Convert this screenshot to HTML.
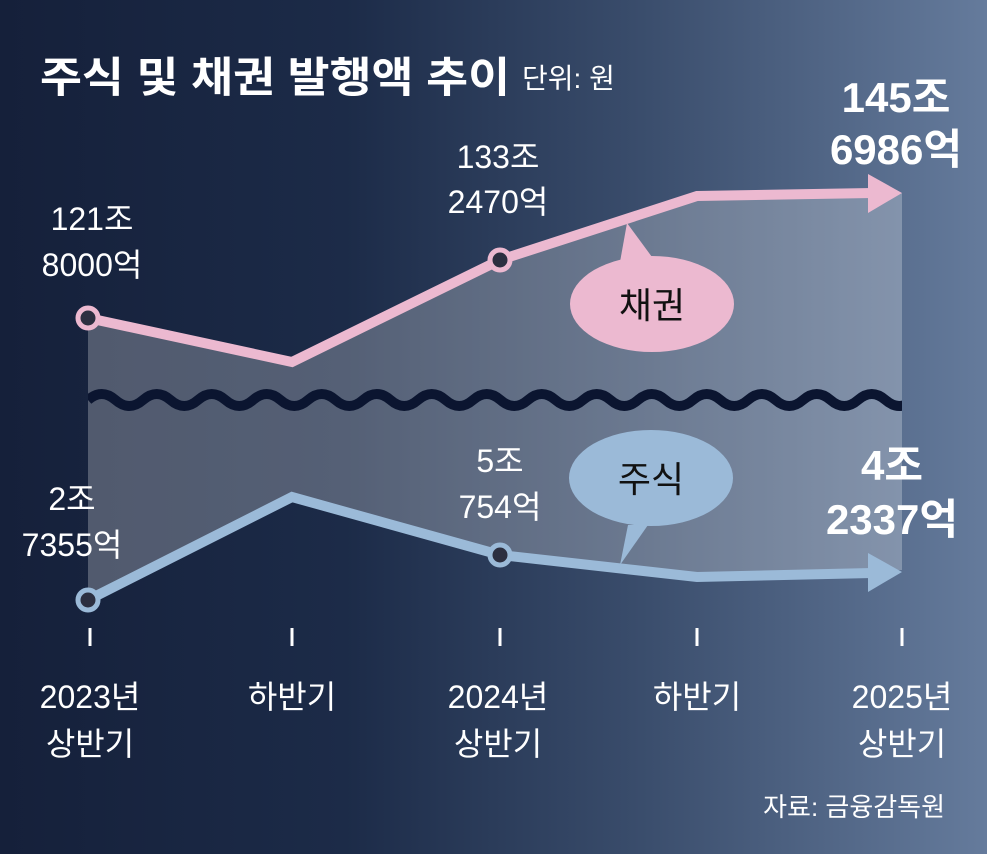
<!DOCTYPE html>
<html><head><meta charset="utf-8"><style>
html,body{margin:0;padding:0}
body{width:987px;height:854px;overflow:hidden;background:linear-gradient(90deg,#15203a 0%,#1c2b48 35%,#3a4d6c 65%,#657b9c 100%);font-family:"Liberation Sans","Noto Sans CJK KR",sans-serif}
svg{position:absolute;left:0;top:0}
</style></head><body>
<svg width="987" height="854" viewBox="0 0 987 854" font-family="Liberation Sans, Noto Sans CJK KR, sans-serif">
<defs><clipPath id="c"><rect x="88" y="0" width="814" height="854"/></clipPath></defs>
<polygon points="88,318 292,362 500,260 697,196 902,193 902,570 697,577 500,555 292,497 88,600" fill="#ffffff" fill-opacity="0.25"/>
<path clip-path="url(#c)" d="M88,400 q13.75,-12 27.5,0 t27.5,0 t27.5,0 t27.5,0 t27.5,0 t27.5,0 t27.5,0 t27.5,0 t27.5,0 t27.5,0 t27.5,0 t27.5,0 t27.5,0 t27.5,0 t27.5,0 t27.5,0 t27.5,0 t27.5,0 t27.5,0 t27.5,0 t27.5,0 t27.5,0 t27.5,0 t27.5,0 t27.5,0 t27.5,0 t27.5,0 t27.5,0 t27.5,0 t27.5,0" fill="none" stroke="#0b1530" stroke-width="10"/>
<polyline points="88,318 292,362 500,260 697,196 872,193" fill="none" stroke="#ecb9d0" stroke-width="10"/>
<polygon points="868,174 902,193 868,213" fill="#ecb9d0"/>
<polyline points="88,600 292,497 500,555 697,577 872,573" fill="none" stroke="#9bbad8" stroke-width="10"/>
<polygon points="868,553 902,572 868,592" fill="#9bbad8"/>
<circle cx="88" cy="318" r="10" fill="#2c2f40" stroke="#ecb9d0" stroke-width="5"/>
<circle cx="500" cy="260" r="10" fill="#2c2f40" stroke="#ecb9d0" stroke-width="5"/>
<circle cx="88" cy="600" r="10" fill="#2c2f40" stroke="#9bbad8" stroke-width="5"/>
<circle cx="500" cy="555" r="10" fill="#2c2f40" stroke="#9bbad8" stroke-width="5"/>
<polygon points="627,223 652,257 620,262" fill="#ecb9d0"/>
<ellipse cx="652" cy="304" rx="82" ry="48" fill="#ecb9d0"/>
<text x="652" y="318" font-size="36" text-anchor="middle" fill="#111">채권</text>
<polygon points="628,525 648,525 620,565" fill="#9bbad8"/>
<ellipse cx="651" cy="478" rx="82" ry="48" fill="#9bbad8"/>
<text x="651" y="492" font-size="36" text-anchor="middle" fill="#111">주식</text>
<g fill="#fff">
<text x="40" y="92" font-size="42" font-weight="bold" textLength="470" lengthAdjust="spacingAndGlyphs">주식 및 채권 발행액 추이</text>
<text x="522" y="88" font-size="28">단위: 원</text>
<g font-size="32" text-anchor="middle">
<text x="92" y="230">121조</text><text x="92" y="276">8000억</text>
<text x="498" y="168">133조</text><text x="498" y="213">2470억</text>
<text x="72" y="510">2조</text><text x="72" y="556">7355억</text>
<text x="500" y="472">5조</text><text x="500" y="518">754억</text>
<text x="90" y="708">2023년</text><text x="90" y="755">상반기</text>
<text x="292" y="708">하반기</text>
<text x="498" y="708">2024년</text><text x="498" y="755">상반기</text>
<text x="697" y="708">하반기</text>
<text x="902" y="708">2025년</text><text x="902" y="755">상반기</text>
</g>
<g font-size="42" font-weight="bold" text-anchor="middle">
<text x="896" y="112">145조</text><text x="896" y="164">6986억</text>
<text x="892" y="480">4조</text><text x="892" y="534">2337억</text>
</g>
<text x="945" y="816" font-size="26" text-anchor="end">자료: 금융감독원</text>
</g>
<g stroke="#fff" stroke-width="3">
<line x1="90" y1="628" x2="90" y2="646"/><line x1="292" y1="628" x2="292" y2="646"/><line x1="500" y1="628" x2="500" y2="646"/><line x1="697" y1="628" x2="697" y2="646"/><line x1="902" y1="628" x2="902" y2="646"/>
</g>
</svg>
</body></html>
